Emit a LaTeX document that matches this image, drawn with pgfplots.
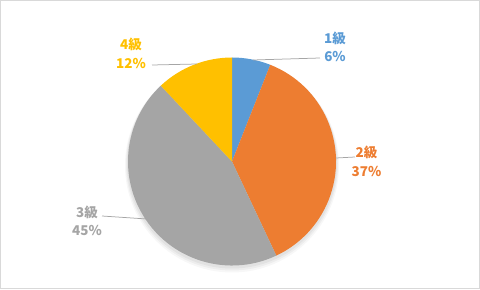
\documentclass[border=0pt]{standalone}
\usepackage{fontspec}
\setmainfont{Noto Sans CJK JP}
\usepackage{pgfplots}
\usepackage{pgfplotstable}
\pgfplotsset{compat=1.18}
\definecolor{pieblue}{HTML}{5B9BD5}
\definecolor{pieorange}{HTML}{ED7D31}
\definecolor{piegray}{HTML}{A5A5A5}
\definecolor{piegold}{HTML}{FFC000}
\definecolor{leader}{HTML}{A6A6A6}
\definecolor{frame}{HTML}{D9D9D9}

\pgfplotstableread{
grade pct
1 6
2 37
3 45
4 12
}\piedata
\pgfplotstablegetelem{0}{pct}\of\piedata \edef\pA{\pgfplotsretval}
\pgfplotstablegetelem{1}{pct}\of\piedata \edef\pB{\pgfplotsretval}
\pgfplotstablegetelem{2}{pct}\of\piedata \edef\pC{\pgfplotsretval}
\pgfplotstablegetelem{3}{pct}\of\piedata \edef\pD{\pgfplotsretval}
\pgfmathsetmacro\aA{90}
\pgfmathsetmacro\aB{\aA-3.6*\pA}
\pgfmathsetmacro\aC{\aB-3.6*\pB}
\pgfmathsetmacro\aD{\aC-3.6*\pC}
\pgfmathsetmacro\aE{\aD-3.6*\pD}

\begin{document}
\begin{tikzpicture}
\begin{axis}[
  scale only axis, width=480bp, height=289bp,
  xmin=0, xmax=480, ymin=0, ymax=289,
  hide axis, clip=false,
]
\draw[frame, line width=1bp] (axis cs:0.5,0.5) rectangle (axis cs:479.5,288.5);
% soft shadow
\fill[black, opacity=0.05] (axis cs:232,125.5) circle[radius=105bp];
\fill[black, opacity=0.04] (axis cs:232,124.5) circle[radius=106bp];
\fill[black, opacity=0.03] (axis cs:232,123.5) circle[radius=107bp];
\fill[pieblue]   (axis cs:232,127.5) -- ++(\aA:104bp) arc[start angle=\aA, end angle=\aB, radius=104bp] -- cycle;
\fill[pieorange] (axis cs:232,127.5) -- ++(\aB:104bp) arc[start angle=\aB, end angle=\aC, radius=104bp] -- cycle;
\fill[piegray]   (axis cs:232,127.5) -- ++(\aC:104bp) arc[start angle=\aC, end angle=\aD, radius=104bp] -- cycle;
\fill[piegold]   (axis cs:232,127.5) -- ++(\aD:104bp) arc[start angle=\aD, end angle=\aE, radius=104bp] -- cycle;
% leader lines
\draw[leader, line width=0.75bp] (axis cs:253,229) -- (axis cs:320,231);
\draw[leader, line width=0.75bp] (axis cs:336,131) -- (axis cs:355,132);
\draw[leader, line width=0.75bp] (axis cs:102,73) -- (axis cs:147,70);
\draw[leader, line width=0.75bp] (axis cs:152,224) -- (axis cs:197,225);
% labels
\tikzset{lab/.style={font=\fontsize{13.5}{18.5}\selectfont\bfseries, align=center, inner sep=0pt}}
\node[lab, text=pieblue]   at (axis cs:335,242) {1級\\\pA\%};
\node[lab, text=pieorange] at (axis cs:366.5,127.5) {2級\\\pB\%};
\node[lab, text=piegray]   at (axis cs:87,68) {3級\\\pC\%};
\node[lab, text=piegold]   at (axis cs:131,235.5) {4級\\\pD\%};
\end{axis}
\end{tikzpicture}
\end{document}
